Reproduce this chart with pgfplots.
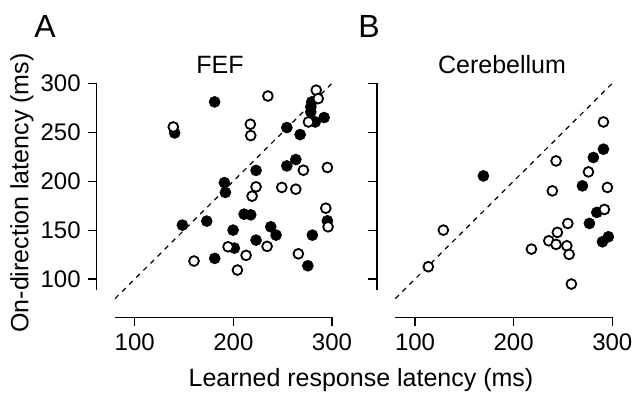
\documentclass[border=0pt]{standalone}
\usepackage{fontspec}
\setmainfont{Liberation Sans}
\usepackage{pgfplots}
\pgfplotsset{compat=1.18}
\pgfplotsset{panel/.style={
  scale only axis, width=108.5pt, height=103.35pt,
  xmin=80, xmax=300, ymin=88.8, ymax=300,
  axis x line=bottom, axis y line=left,
  axis line style={-, line width=0.6pt},
  axis x line shift=13.65pt, axis y line shift=9.15pt,
  xtick={100,200,300}, ytick={100,150,200,250,300},
  tick align=outside, major tick length=4.5pt,
  tick style={line width=0.6pt, black},
  ticklabel style={font=\fontsize{12}{14}\selectfont},
  /pgf/number format/assume math mode=true,
  clip=false,
},
filledpt/.style={only marks, mark=*, mark size=2.75pt, mark options={fill=black, draw=black, line width=0.3pt}},
openpt/.style={only marks, mark=*, mark size=2.45pt, mark options={fill=white, draw=black, line width=0.9pt}},
diag/.style={black, line width=0.6pt, dash pattern=on 2.5pt off 2.5pt}
}
\begin{document}
\begin{tikzpicture}
\path[use as bounding box] (-57.5pt,-51.5pt) rectangle (260pt,145pt);
\begin{axis}[panel, at={(0pt,0pt)}, anchor=south west]
\addplot[diag] coordinates {(80,80) (300,300)};
\addplot[filledpt] coordinates {
(181,281) (279.5,281) (278.5,275.8) (278.5,270.7) (283,260.5) (292,265)
(254.2,254.8) (267.7,247.6) (140.5,249.3) (263.3,222.1) (254.2,215.6)
(223,211) (190.9,198.5) (191.9,188.5) (295.3,159.5) (210.9,166.3)
(217.6,165.6) (148.3,155.1) (173,159.2) (199.7,150) (237.9,153.4)
(243.3,144.9) (280.1,144.9) (223,139.8) (201,131.6) (181.1,121.1)
(275.5,113.6)
};
\addplot[openpt] coordinates {
(235,287) (284,293) (286,284.4) (276.1,260.5) (139.1,255.4) (217.2,258.2)
(217.6,246.6) (271,211.2) (295.3,214) (223,194.2) (219,184.7) (249.1,193.6)
(263.3,191.8) (293.7,172.4) (296,153.4) (194.6,133) (234.2,133.4)
(160.1,118.4) (212.9,124.2) (265.9,125.8) (204.1,109.2)
};
\end{axis}
\begin{axis}[panel, at={(140.15pt,0pt)}, anchor=south west, yticklabels={}]
\addplot[diag] coordinates {(80,80) (300,300)};
\addplot[filledpt] coordinates {
(291,232.7) (280.8,224.2) (169.3,205.4) (269.7,195.2) (284.3,168.1)
(276.8,156.8) (290,138.1) (296,143.2)
};
\addplot[openpt] coordinates {
(291,260.5) (243,220.7) (275.8,209.5) (295,193.6) (239.2,190.1) (292,171.1)
(254.9,156.8) (128.7,150) (244.3,147.7) (235.6,139.1) (243,135.4)
(253.9,134) (218,130.6) (256.2,125.2) (113.5,112.6) (258.5,94.9)
};
\end{axis}
\node[font=\fontsize{12.5}{15}\selectfont] at (52.5pt,112.5pt) {FEF};
\node[font=\fontsize{12.5}{15}\selectfont] at (193.5pt,112.5pt) {Cerebellum};
\node[font=\fontsize{16}{19}\selectfont] at (-35pt,132pt) {A};
\node[font=\fontsize{16}{19}\selectfont] at (127pt,132pt) {B};
\node[font=\fontsize{12.5}{15}\selectfont, rotate=90] at (-46.5pt,48.5pt) {On-direction latency (ms)};
\node[font=\fontsize{12.5}{15}\selectfont] at (123pt,-45pt) {Learned response latency (ms)};
\end{tikzpicture}
\end{document}
